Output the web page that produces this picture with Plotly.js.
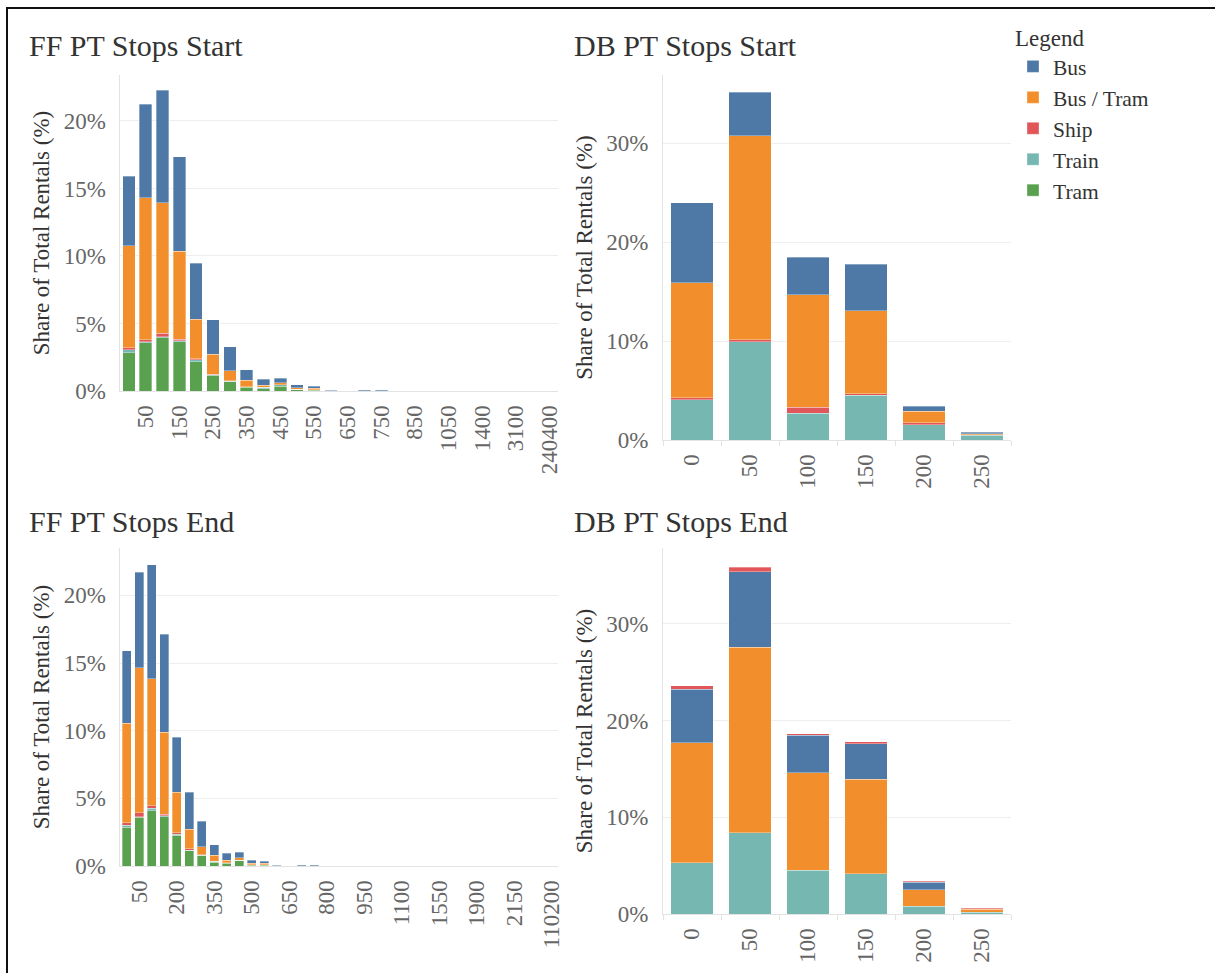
<!DOCTYPE html>
<html>
<head>
<meta charset="utf-8">
<script src="https://cdn.plot.ly/plotly-3.0.1.min.js"></script>
<style>html,body{margin:0;padding:0;background:#fff;}#chart{width:1215px;height:973px;}</style>
</head>
<body>
<div id="chart"></div>
<script>
// ---------- Categories ----------
var ffStartCats = ['0','50','100','150','200','250','300','350','400','450','500','550','600','650','700','750','800','850','950','1050','1200','1400','2000','3100','8050','240400'];
var ffStartTickVals = ['50','150','250','350','450','550','650','750','850','1050','1400','3100','240400'];
var ffEndCats = ['0','50','100','150','200','250','300','350','400','450','500','550','600','650','700','750','800','850','900','950','1000','1050','1100','1200','1350','1550','1650','1800','1900','2000','2050','2150','3000','5600','110200'];
var ffEndTickVals = ['50','200','350','500','650','800','950','1100','1550','1900','2150','110200'];
var dbCats = ['0','50','100','150','200','250'];

// ---------- FF PT Stops Start (%) ----------
var ffStartTram    = [2.84,3.58,3.95,3.65,2.17,1.16,0.69,0.27,0.17,0.37,0.12,0.07,0,0,0,0,0,0,0,0,0,0,0,0,0,0];
var ffStartTrain   = [0.20,0.07,0.07,0.08,0.13,0.05,0.05,0.05,0.10,0.10,0.02,0.02,0,0,0,0,0,0,0,0,0,0,0,0,0,0];
var ffStartShip    = [0.17,0.15,0.25,0.10,0.10,0.02,0.01,0.01,0,0,0,0,0,0,0,0,0,0,0,0,0,0,0,0,0,0];
var ffStartBusTram = [7.53,10.52,9.68,6.52,2.93,1.51,0.74,0.45,0.17,0.15,0.10,0.10,0.01,0,0,0,0,0,0,0,0,0,0,0,0,0];
var ffStartBus     = [5.16,6.91,8.32,6.98,4.13,2.52,1.80,0.81,0.42,0.34,0.22,0.15,0.05,0.01,0.04,0.04,0.01,0.01,0.01,0.01,0.01,0.01,0.01,0.01,0.01,0.01];

// ---------- FF PT Stops End (%) ----------
var ffEndTram    = [2.86,3.60,4.09,3.65,2.27,1.11,0.74,0.27,0.20,0.37,0.07,0.07,0,0,0,0,0,0,0,0,0,0,0,0,0,0,0,0,0,0,0,0,0,0,0];
var ffEndTrain   = [0.15,0.05,0.17,0.07,0.07,0.07,0.07,0.07,0.05,0.05,0.02,0.02,0,0,0,0,0,0,0,0,0,0,0,0,0,0,0,0,0,0,0,0,0,0,0];
var ffEndShip    = [0.17,0.27,0.20,0.12,0.10,0.08,0.01,0,0,0,0,0,0,0,0,0,0,0,0,0,0,0,0,0,0,0,0,0,0,0,0,0,0,0,0];
var ffEndBusTram = [7.36,10.74,9.38,6.06,3.00,1.47,0.62,0.45,0.19,0.20,0.13,0.10,0.01,0,0,0,0,0,0,0,0,0,0,0,0,0,0,0,0,0,0,0,0,0,0];
var ffEndBus     = [5.37,7.06,8.43,7.24,4.09,2.71,1.85,0.79,0.50,0.41,0.22,0.15,0.05,0.01,0.04,0.04,0.01,0.01,0.01,0.01,0.01,0.01,0.01,0.01,0.01,0.01,0.01,0.01,0.01,0.01,0.01,0.01,0.01,0.01,0.01];

// ---------- DB PT Stops Start (%) ----------
var dbStartTrain   = [4.05,9.92,2.70,4.52,1.52,0.47];
var dbStartShip    = [0.23,0.23,0.61,0.17,0.20,0.07];
var dbStartBusTram = [11.64,20.61,11.36,8.40,1.21,0.10];
var dbStartBus     = [8.09,4.38,3.81,4.68,0.48,0.14];

// ---------- DB PT Stops End (%) ----------
var dbEndTrain   = [5.28,8.38,4.55,4.17,0.79,0.17];
var dbEndBusTram = [12.41,19.21,10.04,9.76,1.72,0.31];
var dbEndBus     = [5.55,7.79,3.90,3.66,0.76,0.04];
var dbEndShip    = [0.35,0.48,0.14,0.24,0.14,0.14];

var colors = {'Bus':'#4e79a7','Bus / Tram':'#f28e2b','Ship':'#e15759','Train':'#76b7b2','Tram':'#59a14f'};
var ranks = {'Bus':1,'Bus / Tram':2,'Ship':3,'Train':4,'Tram':5};

function bar(name, x, y, xa, ya, show){
  return {type:'bar', name:name, x:x, y:y, xaxis:xa, yaxis:ya,
    marker:{color:colors[name], line:{color:'rgba(255,255,255,0.55)', width:0.6}},
    legendgroup:name, showlegend:!!show, legendrank:ranks[name], hoverinfo:'x+y+name'};
}

var data = [
  bar('Tram', ffStartCats, ffStartTram, 'x', 'y', true),
  bar('Train', ffStartCats, ffStartTrain, 'x', 'y', true),
  bar('Ship', ffStartCats, ffStartShip, 'x', 'y', true),
  bar('Bus / Tram', ffStartCats, ffStartBusTram, 'x', 'y', true),
  bar('Bus', ffStartCats, ffStartBus, 'x', 'y', true),

  bar('Train', dbCats, dbStartTrain, 'x2', 'y2'),
  bar('Ship', dbCats, dbStartShip, 'x2', 'y2'),
  bar('Bus / Tram', dbCats, dbStartBusTram, 'x2', 'y2'),
  bar('Bus', dbCats, dbStartBus, 'x2', 'y2'),

  bar('Tram', ffEndCats, ffEndTram, 'x3', 'y3'),
  bar('Train', ffEndCats, ffEndTrain, 'x3', 'y3'),
  bar('Ship', ffEndCats, ffEndShip, 'x3', 'y3'),
  bar('Bus / Tram', ffEndCats, ffEndBusTram, 'x3', 'y3'),
  bar('Bus', ffEndCats, ffEndBus, 'x3', 'y3'),

  bar('Train', dbCats, dbEndTrain, 'x4', 'y4'),
  bar('Bus / Tram', dbCats, dbEndBusTram, 'x4', 'y4'),
  bar('Bus', dbCats, dbEndBus, 'x4', 'y4'),
  bar('Ship', dbCats, dbEndShip, 'x4', 'y4')
];

var W = 1215, H = 973;
function px(v){ return v / W; }
function py(v){ return 1 - v / H; }

var FONT = 'Liberation Serif, Times New Roman, serif';
var tickFont = {family:FONT, size:23, color:'#666666'};
var gridC = '#eeeeee', lineC = '#e3e3e3';

function xAxis(dom, anchor, cats, tickvals, boundaries){
  var ax = {domain:dom, anchor:anchor, type:'category', categoryorder:'array', categoryarray:cats,
    tickangle:-90, tickfont:tickFont, showgrid:false, showline:true, linecolor:lineC, linewidth:1,
    zeroline:false, fixedrange:true, ticklabelstandoff:4};
  if (tickvals){ ax.tickmode='array'; ax.tickvals=tickvals; ax.ticktext=tickvals; ax.ticks=''; }
  if (boundaries){ ax.tickson='boundaries'; ax.ticks='outside'; ax.ticklen=5; ax.tickcolor=lineC; }
  return ax;
}
function yAxis(dom, anchor, range, tickvals, standoff){
  return {domain:dom, anchor:anchor, range:range, tickmode:'array', tickvals:tickvals,
    ticktext:tickvals.map(function(v){return v+'%';}), tickfont:tickFont,
    showgrid:true, gridcolor:gridC, gridwidth:1, zeroline:false, showline:true, linecolor:lineC,
    ticks:'', ticklabelstandoff:9, fixedrange:true,
    title:{text:'Share of Total Rentals (%)', font:{family:FONT, size:23, color:'#333333'}, standoff:standoff}};
}

var layout = {
  width:W, height:H, margin:{l:0,r:0,t:0,b:0}, paper_bgcolor:'#ffffff', plot_bgcolor:'#ffffff',
  barmode:'stack', bargap:0.26, font:{family:FONT, color:'#333333'},
  xaxis:  xAxis([px(120.4), px(558)], 'y', ffStartCats, ffStartTickVals, false),
  xaxis2: xAxis([px(663), px(1011)], 'y2', dbCats, null, true),
  xaxis3: xAxis([px(120.4), px(558)], 'y3', ffEndCats, ffEndTickVals, false),
  xaxis4: xAxis([px(663), px(1011)], 'y4', dbCats, null, true),
  yaxis:  yAxis([py(391), py(75)], 'x', [0, 23.4], [0,5,10,15,20], 7),
  yaxis2: yAxis([py(440), py(75)], 'x2', [0, 36.9], [0,10,20,30], 7),
  yaxis3: yAxis([py(866), py(548)], 'x3', [0, 23.5], [0,5,10,15,20], 7),
  yaxis4: yAxis([py(914), py(548)], 'x4', [0, 37.85], [0,10,20,30], 7),
  legend:{x:px(1013), y:py(16), xanchor:'left', yanchor:'top', traceorder:'normal',
    title:{text:'Legend', font:{family:FONT, size:23, color:'#333333'}},
    font:{family:FONT, size:21.5, color:'#333333'}, bgcolor:'rgba(0,0,0,0)', itemwidth:30, tracegroupgap:0},
  annotations:[
    {text:'FF PT Stops Start', x:px(27), y:py(46), xref:'paper', yref:'paper', xanchor:'left', yanchor:'middle', showarrow:false, font:{family:FONT, size:30, color:'#333333'}},
    {text:'DB PT Stops Start', x:px(572), y:py(46), xref:'paper', yref:'paper', xanchor:'left', yanchor:'middle', showarrow:false, font:{family:FONT, size:30, color:'#333333'}},
    {text:'FF PT Stops End', x:px(27), y:py(521), xref:'paper', yref:'paper', xanchor:'left', yanchor:'middle', showarrow:false, font:{family:FONT, size:30, color:'#333333'}},
    {text:'DB PT Stops End', x:px(572), y:py(521), xref:'paper', yref:'paper', xanchor:'left', yanchor:'middle', showarrow:false, font:{family:FONT, size:30, color:'#333333'}}
  ],
  shapes:[
    {type:'line', xref:'paper', yref:'paper', x0:px(6), x1:1, y0:py(8), y1:py(8), line:{color:'#111111', width:2}},
    {type:'line', xref:'paper', yref:'paper', x0:px(7), x1:px(7), y0:py(8), y1:0, line:{color:'#111111', width:2}}
  ]
};

Plotly.newPlot('chart', data, layout, {displayModeBar:false, staticPlot:true});
</script>
</body>
</html>
